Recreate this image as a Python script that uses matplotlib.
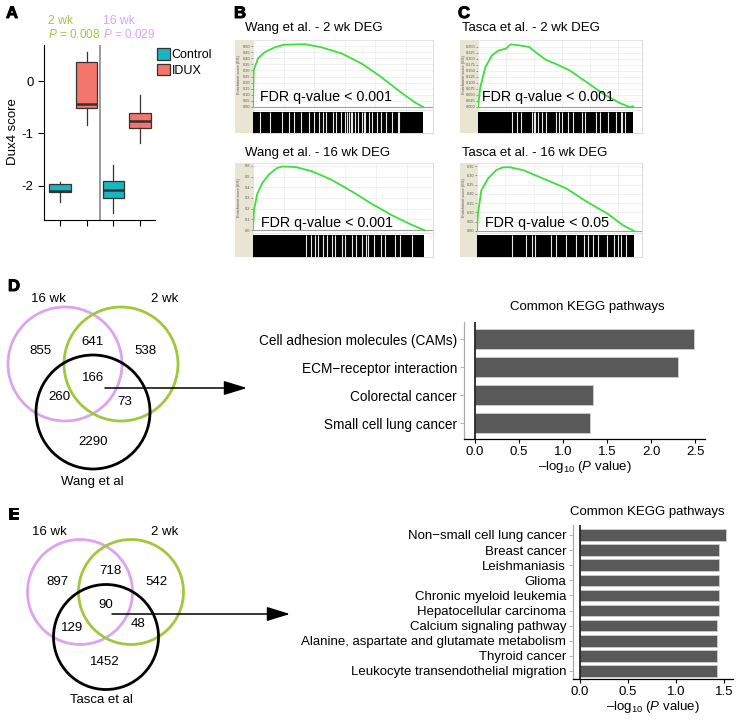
import matplotlib
matplotlib.use('Agg')
import matplotlib.pyplot as plt
from matplotlib.patches import Circle, Rectangle, Patch
import matplotlib.patheffects as pe

plt.rcParams['font.family'] = ['Liberation Sans', 'DejaVu Sans']
plt.rcParams['mathtext.fontset'] = 'custom'
plt.rcParams['mathtext.rm'] = 'Liberation Sans'
plt.rcParams['mathtext.it'] = 'Liberation Sans:italic'
plt.rcParams['mathtext.bf'] = 'Liberation Sans:bold'

# ------------------------------------------------------------------ data
# Panel A (Dux4 score boxplots)
box_labels = ['Control 2 wk', 'IDUX 2 wk', 'Control 16 wk', 'IDUX 16 wk']
box_whislo = [-2.31, -0.84, -2.53, -1.19]
box_q1 = [-2.13, -0.52, -2.24, -0.90]
box_med = [-2.10, -0.44, -2.08, -0.76]
box_q3 = [-1.97, 0.36, -1.91, -0.62]
box_whishi = [-1.94, 0.55, -1.61, -0.27]
a_timepoints = ['2 wk', '16 wk']
a_pvalues = ['0.008', '0.029']
a_yticks = [-2, -1, 0]
a_yticklabels = ['-2', '-1', '0']
legend_labels = ['Control', 'IDUX']

# Panels B/C (GSEA running enrichment score)
gsea_titles = ['Wang et al. - 2 wk DEG', 'Wang et al. - 16 wk DEG',
               'Tasca et al. - 2 wk DEG', 'Tasca et al. - 16 wk DEG']
gsea_fdr = ['FDR q-value < 0.001', 'FDR q-value < 0.001',
            'FDR q-value < 0.001', 'FDR q-value < 0.05']
wang2_rank = [0.0, 0.004, 0.03, 0.07, 0.13, 0.18, 0.305, 0.40, 0.52, 0.64, 0.75, 0.87, 0.95, 1.0]
wang2_es = [0.0, 0.30, 0.40, 0.45, 0.49, 0.51, 0.515, 0.49, 0.44, 0.355, 0.25, 0.12, 0.04, 0.0]
wang16_rank = [0.0, 0.006, 0.025, 0.054, 0.093, 0.14, 0.17, 0.25, 0.345, 0.46, 0.58, 0.69, 0.81, 0.93, 1.0]
wang16_es = [0.0, 0.19, 0.34, 0.44, 0.52, 0.58, 0.595, 0.59, 0.55, 0.47, 0.36, 0.25, 0.14, 0.047, 0.0]
tasca2_rank = [0.0, 0.015, 0.048, 0.09, 0.134, 0.18, 0.21, 0.264, 0.33, 0.37, 0.437, 0.50, 0.59, 0.70, 0.805, 0.913, 0.978, 1.0]
tasca2_es = [0.0, 0.083, 0.167, 0.215, 0.236, 0.243, 0.261, 0.257, 0.25, 0.229, 0.197, 0.18, 0.153, 0.104, 0.056, 0.017, 0.0, 0.003]
tasca16_rank = [0.0, 0.006, 0.028, 0.07, 0.123, 0.166, 0.21, 0.294, 0.42, 0.57, 0.70, 0.83, 0.93, 1.0]
tasca16_es = [0.0, 0.094, 0.22, 0.283, 0.328, 0.343, 0.343, 0.328, 0.283, 0.229, 0.157, 0.094, 0.031, 0.0]
# gaps (white lines) in the hit barcodes
wang2_gaps = [0.04, 0.10, 0.17, 0.21, 0.24, 0.28, 0.33, 0.36, 0.39, 0.41, 0.43, 0.47, 0.49, 0.52,
              0.54, 0.555, 0.565, 0.575, 0.585, 0.60, 0.62, 0.64, 0.65, 0.66, 0.68, 0.70, 0.73,
              0.75, 0.78, 0.82, 0.85, 0.86]
wang16_gaps = [0.31, 0.34, 0.36, 0.38, 0.41, 0.43, 0.46, 0.48, 0.52, 0.54, 0.58, 0.60, 0.64,
               0.66, 0.67, 0.71, 0.75, 0.77, 0.83, 0.86, 0.93]
tasca2_gaps = [0.22, 0.25, 0.28, 0.35, 0.36, 0.37, 0.39, 0.41, 0.44, 0.50, 0.52, 0.54, 0.58,
               0.61, 0.67, 0.69, 0.76, 0.79, 0.84, 0.89, 0.92, 0.93, 0.95]
tasca16_gaps = [0.22, 0.31, 0.35, 0.37, 0.47, 0.50, 0.57, 0.63, 0.68, 0.71, 0.74, 0.77, 0.83,
                0.87, 0.90, 0.92, 0.95]
wang2_yticks = [0.0, 0.05, 0.10, 0.15, 0.20, 0.25, 0.30, 0.35, 0.40, 0.45, 0.50]
wang2_yticklabels = ['0.00', '0.05', '0.10', '0.15', '0.20', '0.25', '0.30', '0.35', '0.40', '0.45', '0.50']
wang16_yticks = [0.0, 0.1, 0.2, 0.3, 0.4, 0.5, 0.6]
wang16_yticklabels = ['0.0', '0.1', '0.2', '0.3', '0.4', '0.5', '0.6']
tasca2_yticks = [0.0, 0.025, 0.05, 0.075, 0.10, 0.125, 0.15, 0.175, 0.20, 0.225, 0.25]
tasca2_yticklabels = ['0.000', '0.025', '0.050', '0.075', '0.100', '0.125', '0.150', '0.175', '0.200', '0.225', '0.250']
tasca16_yticks = [0.0, 0.05, 0.10, 0.15, 0.20, 0.25, 0.30, 0.35]
tasca16_yticklabels = ['0.00', '0.05', '0.10', '0.15', '0.20', '0.25', '0.30', '0.35']

# Panel D/E Venn counts
venn_set_labels = ['16 wk', '2 wk']
venn_d_counts = ['855', '641', '538', '166', '260', '73', '2290']
venn_d_ref = 'Wang et al'
venn_e_counts = ['897', '718', '542', '90', '129', '48', '1452']
venn_e_ref = 'Tasca et al'

# KEGG bar charts
kegg_d_terms = ['Cell adhesion molecules (CAMs)', 'ECM\u2212receptor interaction',
                'Colorectal cancer', 'Small cell lung cancer']
kegg_d_vals = [2.49, 2.30, 1.34, 1.31]
kegg_d_xticks = [0.0, 0.5, 1.0, 1.5, 2.0, 2.5]
kegg_e_terms = ['Non\u2212small cell lung cancer', 'Breast cancer', 'Leishmaniasis', 'Glioma',
                'Chronic myeloid leukemia', 'Hepatocellular carcinoma', 'Calcium signaling pathway',
                'Alanine, aspartate and glutamate metabolism', 'Thyroid cancer',
                'Leukocyte transendothelial migration']
kegg_e_vals = [1.52, 1.45, 1.45, 1.45, 1.45, 1.45, 1.43, 1.43, 1.43, 1.43]
kegg_e_xticks = [0.0, 0.5, 1.0, 1.5]
kegg_title = 'Common KEGG pathways'
kegg_xlabel = '\u2013log$_{10}$ ($P$ value)'

# ------------------------------------------------------------------ styles
W, H = 739, 720
TEAL = '#1AB6BF'
SALMON = '#F4756C'
GREEN = '#9DC93A'
PURPLE = '#DCA4EC'
FS = 9.5

fig = plt.figure(figsize=(W / 100, H / 100), dpi=100)


def px_axes(x0, y0, x1, y1, **kw):
    return fig.add_axes([x0 / W, 1 - y1 / H, (x1 - x0) / W, (y1 - y0) / H], **kw)


# background overlay in pixel coordinates (frames)
ov = px_axes(0, 0, W, H)
ov.set_xlim(0, W)
ov.set_ylim(H, 0)
ov.axis('off')

# ------------------------------------------------------------------ Panel A
axA = px_axes(44, 45, 155, 220)
stats = []
for i in range(4):
    stats.append(dict(label=box_labels[i], whislo=box_whislo[i], q1=box_q1[i], med=box_med[i],
                      q3=box_q3[i], whishi=box_whishi[i]))
bp = axA.bxp(stats, positions=[1, 2, 3, 4], widths=0.8, patch_artist=True, showfliers=False,
             showcaps=False,
             boxprops=dict(edgecolor='#333333', linewidth=0.9),
             medianprops=dict(color='#333333', linewidth=1.8),
             whiskerprops=dict(color='#333333', linewidth=0.9))
for patch, c in zip(bp['boxes'], [TEAL, SALMON, TEAL, SALMON]):
    patch.set_facecolor(c)
axA.axvline(2.5, color='#8a8a8a', lw=1.2)
axA.set_xlim(0.4, 4.56)
axA.set_ylim(-2.66, 0.69)
axA.set_yticks(a_yticks)
axA.set_yticklabels(a_yticklabels, fontsize=FS)
axA.set_xticks([1, 2, 3, 4])
axA.set_xticklabels(['', '', '', ''])
axA.tick_params(length=4, width=0.8)
for s in ['top', 'right']:
    axA.spines[s].set_visible(False)
axA.patch.set_alpha(0)
handles = [Patch(facecolor=TEAL, edgecolor='#333333', lw=0.9),
           Patch(facecolor=SALMON, edgecolor='#333333', lw=0.9)]
fig.legend(handles, legend_labels, loc='upper left', bbox_to_anchor=(157 / W, 1 - 48 / H),
           frameon=False, fontsize=9, handlelength=1.05, handleheight=1.05, handletextpad=0.12,
           labelspacing=0.2, borderpad=0, borderaxespad=0)

# ------------------------------------------------------------------ Panels B, C (GSEA)
gsea_specs = [
    dict(rank=wang2_rank, es=wang2_es, gaps=wang2_gaps, yt=wang2_yticks, ytl=wang2_yticklabels,
         x0=235, sx=253, x1=433, y0=40, zero=107, ybot=110, by0=112, by1=133, dend=423, scale=122.0,
         title_xy=(245, 28), fdr_xy=(260, 97)),
    dict(rank=wang16_rank, es=wang16_es, gaps=wang16_gaps, yt=wang16_yticks, ytl=wang16_yticklabels,
         x0=235, sx=253, x1=433, y0=163, zero=230, ybot=233, by0=235, by1=257, dend=424, scale=106.7,
         title_xy=(245, 153), fdr_xy=(261, 223)),
    dict(rank=tasca2_rank, es=tasca2_es, gaps=tasca2_gaps, yt=tasca2_yticks, ytl=tasca2_yticklabels,
         x0=460, sx=478, x1=642, y0=40, zero=107, ybot=110, by0=112, by1=133, dend=633, scale=240.0,
         title_xy=(462, 28), fdr_xy=(482, 97)),
    dict(rank=tasca16_rank, es=tasca16_es, gaps=tasca16_gaps, yt=tasca16_yticks, ytl=tasca16_yticklabels,
         x0=460, sx=477, x1=642, y0=163, zero=231, ybot=233, by0=235, by1=257, dend=634, scale=185.7,
         title_xy=(462, 153), fdr_xy=(485, 223)),
]
for k, g in enumerate(gsea_specs):
    ov.add_patch(Rectangle((g['x0'], g['y0']), g['sx'] - g['x0'], g['by1'] - g['y0'],
                           facecolor='#E8E5D3', edgecolor='none'))
    ov.add_patch(Rectangle((g['sx'], g['y0']), g['x1'] - g['sx'], g['by1'] - g['y0'],
                           facecolor='white', edgecolor='#DCDCDC', lw=0.8))
    ov.text(g['x0'] + 4, (g['y0'] + g['ybot']) / 2, 'Enrichment score (ES)', rotation=90,
            fontsize=2.8, color='#555555', ha='center', va='center')
    ax = px_axes(g['sx'], g['y0'], g['x1'], g['ybot'])
    ax.plot(g['rank'], g['es'], color='#3BE03B', lw=1.3, zorder=3)
    ax.axhline(0, color='#A0A0A0', lw=0.8, zorder=2)
    xmax = (g['x1'] - g['sx']) / (g['dend'] - g['sx'])
    ax.set_xlim(0, xmax)
    ax.set_ylim(-(g['ybot'] - g['zero']) / g['scale'], (g['zero'] - g['y0']) / g['scale'])
    ax.set_yticks(g['yt'])
    ax.set_yticklabels(g['ytl'])
    ax.set_xticks([0.18, 0.36, 0.54, 0.72, 0.90])
    ax.set_xticklabels([])
    ax.tick_params(axis='y', labelsize=2.8, length=1.2, width=0.4, pad=0.8, colors='#555555')
    ax.tick_params(axis='x', length=0)
    ax.grid(True, color='#EBEBEB', lw=0.5)
    ax.set_axisbelow(True)
    for s in ax.spines.values():
        s.set_color('#DCDCDC')
        s.set_linewidth(0.5)
    bx = px_axes(g['sx'], g['by0'], g['dend'], g['by1'])
    bx.set_facecolor('black')
    bx.vlines(g['gaps'], 0, 1, colors='#E8E8E8', lw=0.8)
    bx.set_xlim(0, 1)
    bx.set_ylim(0, 1)
    bx.set_xticks([])
    bx.set_yticks([])
    for s in bx.spines.values():
        s.set_visible(False)

# foreground overlay in pixel coordinates (texts, venns, arrows)
top = px_axes(0, 0, W, H)
top.set_xlim(0, W)
top.set_ylim(H, 0)
top.axis('off')

letter_kw = dict(fontsize=12, fontweight='bold', ha='left', va='top',
                 path_effects=[pe.withStroke(linewidth=0.7, foreground='black')])
top.text(6, 6, 'A', **letter_kw)
top.text(234, 6, 'B', **letter_kw)
top.text(458, 6, 'C', **letter_kw)
top.text(8, 279, 'D', **letter_kw)
top.text(8, 507, 'E', **letter_kw)

top.text(13, 132, 'Dux4 score', rotation=90, fontsize=FS, ha='center', va='center')
top.text(48, 21, a_timepoints[0], color=GREEN, fontsize=8.7, ha='left', va='center')
top.text(48, 34, '$P$ = ' + a_pvalues[0], color=GREEN, fontsize=8.5, ha='left', va='center')
top.text(103, 21, a_timepoints[1], color=PURPLE, fontsize=8.7, ha='left', va='center')
top.text(103, 34, '$P$ = ' + a_pvalues[1], color=PURPLE, fontsize=8.5, ha='left', va='center')

for k, g in enumerate(gsea_specs):
    top.text(g['title_xy'][0], g['title_xy'][1], gsea_titles[k], fontsize=FS, ha='left', va='center')
    top.text(g['fdr_xy'][0], g['fdr_xy'][1], gsea_fdr[k], fontsize=10.3, ha='left', va='center')


# ------------------------------------------------------------------ Venn diagrams
def venn(cx16, cx2, cy, cxr, cyr, r, counts, count_xy, lab_xy, ref, ref_xy, arrow):
    top.add_patch(Circle((cx16, cy), r, fill=False, edgecolor=PURPLE, lw=2.0))
    top.add_patch(Circle((cx2, cy), r, fill=False, edgecolor=GREEN, lw=2.0))
    top.add_patch(Circle((cxr, cyr), r, fill=False, edgecolor='black', lw=2.0))
    for c, (x, y) in zip(counts, count_xy):
        top.text(x, y, c, fontsize=FS, ha='center', va='center')
    for t, (x, y) in zip(venn_set_labels, lab_xy):
        top.text(x, y, t, fontsize=FS, ha='center', va='center')
    top.text(ref_xy[0], ref_xy[1], ref, fontsize=FS, ha='center', va='center')
    top.annotate('', xy=arrow[1], xytext=arrow[0],
                 arrowprops=dict(arrowstyle='-|>,head_length=1.3,head_width=0.4', color='black',
                                 lw=1.1, mutation_scale=11, shrinkA=0, shrinkB=0))


venn(65, 121, 364, 93, 412, 57, venn_d_counts,
     [(40, 351), (93, 342), (145, 351), (93, 378), (59, 397), (125, 402), (93, 442)],
     [(48, 299), (165, 299)], venn_d_ref, (92, 482), ((105, 388), (247, 388)))
venn(80, 131, 592, 106, 637, 52.5, venn_e_counts,
     [(57, 582), (110, 571), (156, 582), (106, 605), (72, 628), (138, 624), (105, 662)],
     [(49, 532), (165, 532)], venn_e_ref, (101, 700), ((112, 614), (290, 614)))


# ------------------------------------------------------------------ KEGG bars
def kegg(box, xlim, ylim, terms, vals, xticks, height, title_xy, fs):
    ax = px_axes(*box)
    ax.barh(range(len(terms)), vals, height=height, color='#595959', edgecolor='#CFCFCF', lw=0.6)
    ax.axvline(0, color='black', lw=1.1)
    ax.set_xlim(*xlim)
    ax.set_ylim(*ylim)
    ax.set_yticks(range(len(terms)))
    ax.set_yticklabels(terms, fontsize=fs)
    ax.set_xticks(xticks)
    ax.set_xticklabels(['%.1f' % v for v in xticks], fontsize=FS)
    ax.tick_params(axis='y', length=3, width=0.6, color='#AAAAAA', pad=2)
    ax.tick_params(axis='x', length=3, width=0.8, pad=2)
    ax.spines['top'].set_visible(False)
    ax.spines['right'].set_visible(False)
    ax.spines['left'].set_color('#AAAAAA')
    ax.spines['left'].set_linewidth(0.9)
    ax.spines['bottom'].set_linewidth(0.9)
    ax.set_xlabel(kegg_xlabel, fontsize=FS, labelpad=1)
    ax.patch.set_alpha(0)
    top.text(title_xy[0], title_xy[1], kegg_title, fontsize=FS, ha='center', va='center')
    return ax


kegg((464, 322, 705, 439), (-0.125, 2.61), (3.57, -0.61), kegg_d_terms, kegg_d_vals,
     kegg_d_xticks, 0.72, (587, 307), 9.8)
kegg((573, 525, 733, 679), (-0.073, 1.594), (9.53, -0.66), kegg_e_terms, kegg_e_vals,
     kegg_e_xticks, 0.76, (647, 512), 9.5)

fig.savefig('out.png', dpi=100)
